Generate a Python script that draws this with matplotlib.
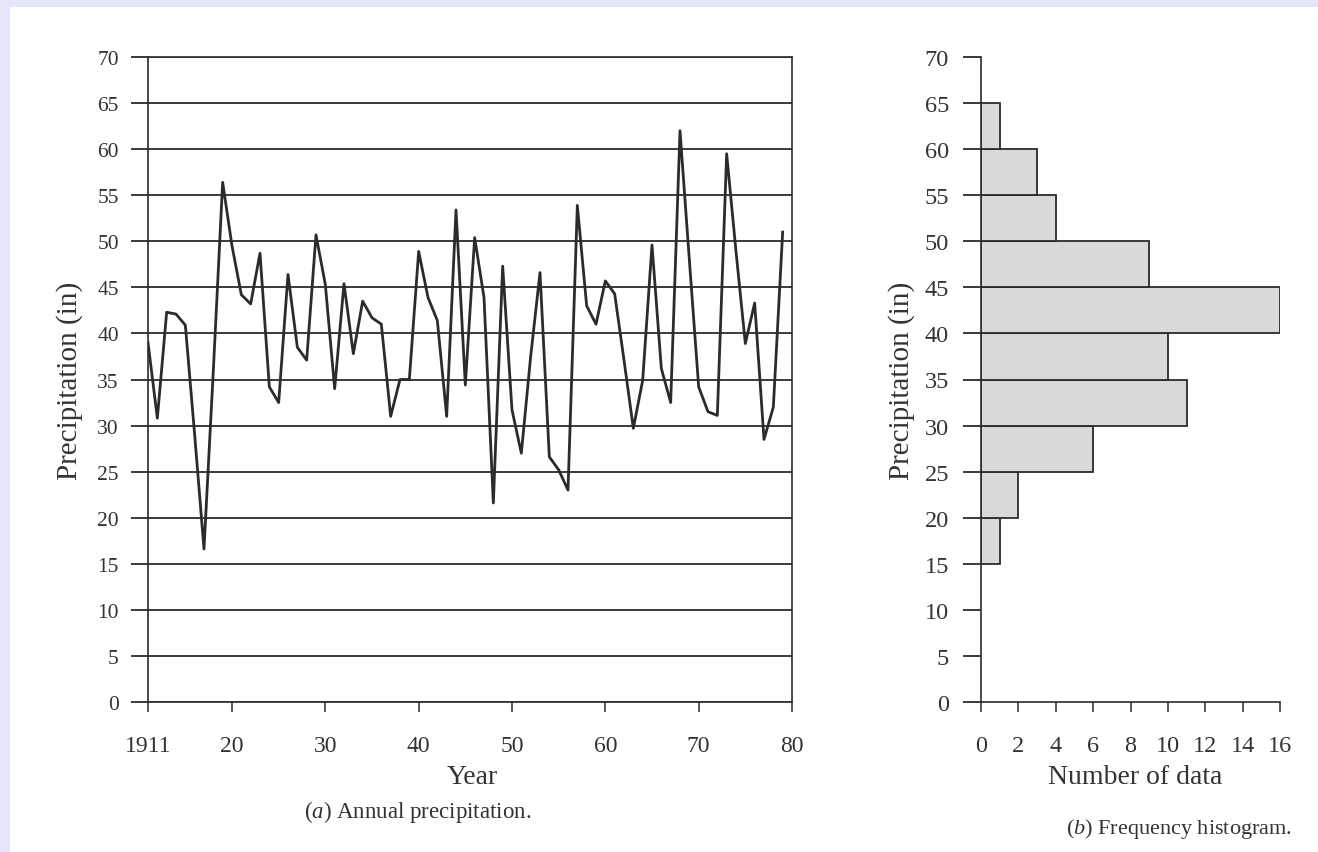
import numpy as np
import matplotlib
matplotlib.use("Agg")
import matplotlib.pyplot as plt
from matplotlib.patches import Rectangle

plt.rcParams['font.family'] = ['Liberation Serif', 'DejaVu Serif']
plt.rcParams['mathtext.fontset'] = 'custom'
plt.rcParams['mathtext.rm'] = 'Liberation Serif'
plt.rcParams['mathtext.it'] = 'Liberation Serif:italic'

# annual precipitation (in), 1911-1979
years = np.arange(1911, 1980)
precip = [39.0, 30.8, 42.3, 42.1, 40.9, 29.0, 16.6, 36.0, 56.4, 49.5,
          44.2, 43.2, 48.7, 34.2, 32.5, 46.4, 38.5, 37.1, 50.7, 45.3,
          34.0, 45.4, 37.8, 43.5, 41.7, 41.0, 31.0, 35.0, 35.0, 48.9,
          43.9, 41.4, 31.0, 53.4, 34.4, 50.4, 43.9, 21.6, 47.3, 31.7,
          27.0, 37.5, 46.6, 26.6, 25.2, 23.0, 53.9, 43.0, 41.0, 45.7,
          44.3, 37.1, 29.7, 34.9, 49.6, 36.2, 32.5, 62.0, 48.0, 34.2,
          31.5, 31.1, 59.5, 48.9, 38.9, 43.3, 28.5, 32.0, 51.0]

# frequency histogram
bin_lo = [15, 20, 25, 30, 35, 40, 45, 50, 55, 60]
counts = [1, 2, 6, 11, 10, 16, 9, 4, 3, 1]

yticks = np.arange(0, 75, 5)
xticks_a = [1911, 1920, 1930, 1940, 1950, 1960, 1970, 1980]
xlabels_a = ['1911', '20', '30', '40', '50', '60', '70', '80']
xticks_b = np.arange(0, 18, 2)

W, H = 1318, 853
fig = plt.figure(figsize=(W / 100, H / 100), dpi=100)
fig.patch.set_facecolor('#e6e6fa')
fig.patches.append(Rectangle((10 / W, 0), 1, 1 - 8 / H, transform=fig.transFigure,
                             facecolor='white', edgecolor='none', zorder=-10))

ink = '#2b2b2b'
txt = '#333333'

# (a) annual precipitation
ax1 = fig.add_axes([148 / W, 1 - 703 / H, 644 / W, 645 / H])
ax1.set_facecolor('none')
for y in yticks:
    ax1.axhline(y, color=ink, lw=1.3, zorder=1)
ax1.plot(years, precip, color=ink, lw=2.0, zorder=3)
ax1.set_xlim(1911, 1980)
ax1.set_ylim(0, 70)
ax1.set_yticks(yticks)
ax1.set_xticks(xticks_a)
ax1.set_xticklabels(xlabels_a)
ax1.tick_params(axis='y', length=12, width=1.3, color=ink, pad=9, labelsize=15.5,
                labelcolor=txt)
ax1.tick_params(axis='x', length=7, width=1.1, color=ink, pad=17, labelsize=17,
                labelcolor=txt)
for s in ax1.spines.values():
    s.set_color(ink)
    s.set_linewidth(1.2)
ax1.set_ylabel('Precipitation (in)', fontsize=21, color=txt, labelpad=10)
fig.text(472 / W, 1 - 778 / H, 'Year', fontsize=20, color=txt,
         ha='center', va='center')
fig.text(418 / W, 1 - 812 / H, r'($\it{a}$) Annual precipitation.', fontsize=16.5,
         color=txt, ha='center', va='center')

# (b) frequency histogram
ax2 = fig.add_axes([981 / W, 1 - 703 / H, 299 / W, 645 / H])
ax2.set_facecolor('none')
ax2.barh(bin_lo, counts, height=5, align='edge', color='#d9d9d9',
         edgecolor=ink, linewidth=1.3, zorder=2)
ax2.set_xlim(0, 16)
ax2.set_ylim(0, 70)
ax2.set_yticks(yticks)
ax2.set_xticks(xticks_b)
ax2.tick_params(axis='y', length=13, width=1.3, color=ink, pad=10, labelsize=17.5,
                labelcolor=txt)
ax2.tick_params(axis='x', length=7, width=1.1, color=ink, pad=17, labelsize=17.5,
                labelcolor=txt)
ax2.spines['top'].set_visible(False)
ax2.spines['right'].set_visible(False)
for s in ['left', 'bottom']:
    ax2.spines[s].set_color(ink)
    ax2.spines[s].set_linewidth(1.2)
ax2.set_ylabel('Precipitation (in)', fontsize=21, color=txt, labelpad=7)
fig.text(1135 / W, 1 - 778 / H, 'Number of data', fontsize=20, color=txt,
         ha='center', va='center')
fig.text(1179 / W, 1 - 829 / H, r'($\it{b}$) Frequency histogram.', fontsize=16,
         color=txt, ha='center', va='center')

fig.savefig('out.png', dpi=100)
